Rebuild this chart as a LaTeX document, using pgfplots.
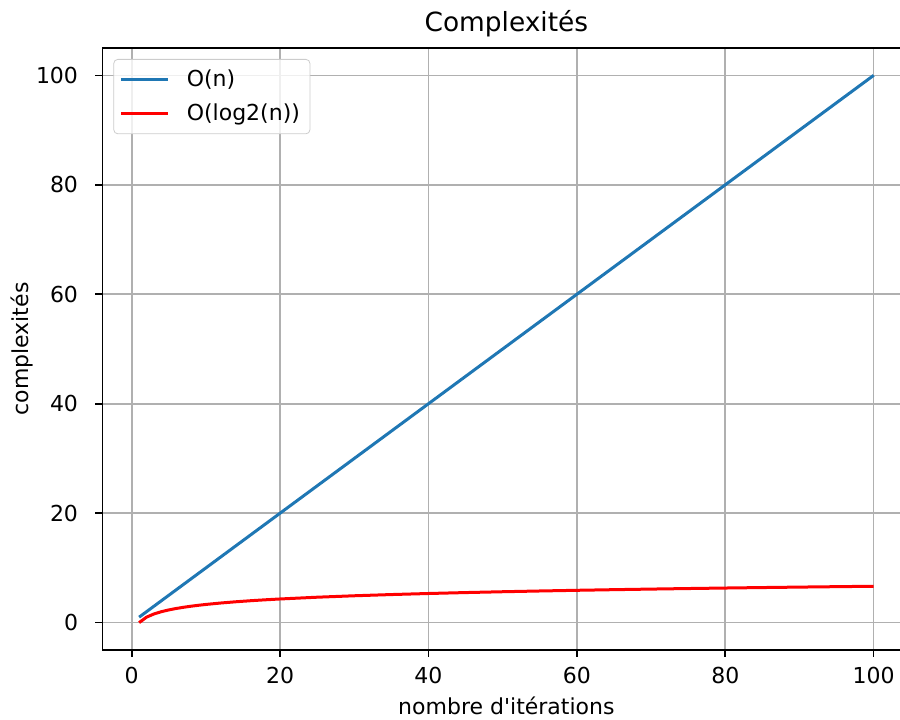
\documentclass[border=0pt]{standalone}
\usepackage{pgfplots}
\pgfplotsset{compat=1.18}
\usepackage{fontspec}
\setmainfont{DejaVu Sans}[Ligatures=TeXOff]
\definecolor{mplblue}{HTML}{1F77B4}
\definecolor{mplgrid}{HTML}{B0B0B0}
\begin{document}
\begin{tikzpicture}
\begin{axis}[
name=ax,
scale only axis,
width=404pt, height=301pt,
xmin=-3.95, xmax=104.95,
ymin=-5, ymax=105,
xtick={0,20,40,60,80,100},
ytick={0,20,40,60,80,100},
tick pos=left,
tick align=outside,
major tick length=3.5pt,
tick style={black, line width=0.8pt},
axis line style={line width=0.8pt},
grid=major,
grid style={mplgrid, line width=0.8pt},
/pgf/number format/assume math mode=true,
ticklabel style={font=\fontsize{11}{13}\selectfont},
xticklabel style={anchor=north, inner sep=0pt, yshift=-5pt},
yticklabel style={anchor=east, inner sep=0pt, xshift=-8.5pt},
title={Complexités},
every axis title shift=0pt,
title style={font=\fontsize{13.2}{15}\selectfont, at={(axis description cs:0.5,1)}, anchor=base, yshift=8.3pt},
xlabel={nombre d'itérations},
xlabel style={font=\fontsize{11}{13}\selectfont, at={(axis description cs:0.5,-0.093)}, anchor=center},
ylabel={complexités},
ylabel style={font=\fontsize{11}{13}\selectfont, at={(axis description cs:-0.099,0.5)}, anchor=center},
legend style={at={(0,1)}, anchor=north west, xshift=5.5pt, yshift=-5.5pt,
  draw=black!20, rounded corners=2pt, fill=white, fill opacity=0.8, text opacity=1,
  font=\fontsize{11}{13}\selectfont, row sep=3.5pt, inner xsep=3pt, inner ysep=3pt},
legend cell align=left,
legend image code/.code={\draw[#1] (0pt,0pt) -- (23.5pt,0pt); \path (30pt,0pt);},
]
\addplot[mplblue, line width=1.5pt] coordinates {(1,1) (100,100)};
\addlegendentry{O(n)}
\addplot[red, line width=1.5pt] coordinates {
(1,0) (2,1) (3,1.585) (4,2) (5,2.322) (6,2.585) (7,2.807) (8,3) (9,3.170)
(10,3.322) (12,3.585) (14,3.807) (16,4) (18,4.170) (20,4.322) (25,4.644)
(30,4.907) (35,5.129) (40,5.322) (45,5.492) (50,5.644) (55,5.781) (60,5.907)
(65,6.022) (70,6.129) (75,6.229) (80,6.322) (85,6.409) (90,6.492) (95,6.570)
(100,6.644)};
\addlegendentry{O(log2(n))}
\end{axis}
\pgfresetboundingbox
\path[use as bounding box] ([shift={(-51.2pt,-35pt)}]ax.south west) rectangle ([shift={(-5.2pt,24pt)}]ax.north east);
\end{tikzpicture}
\end{document}
